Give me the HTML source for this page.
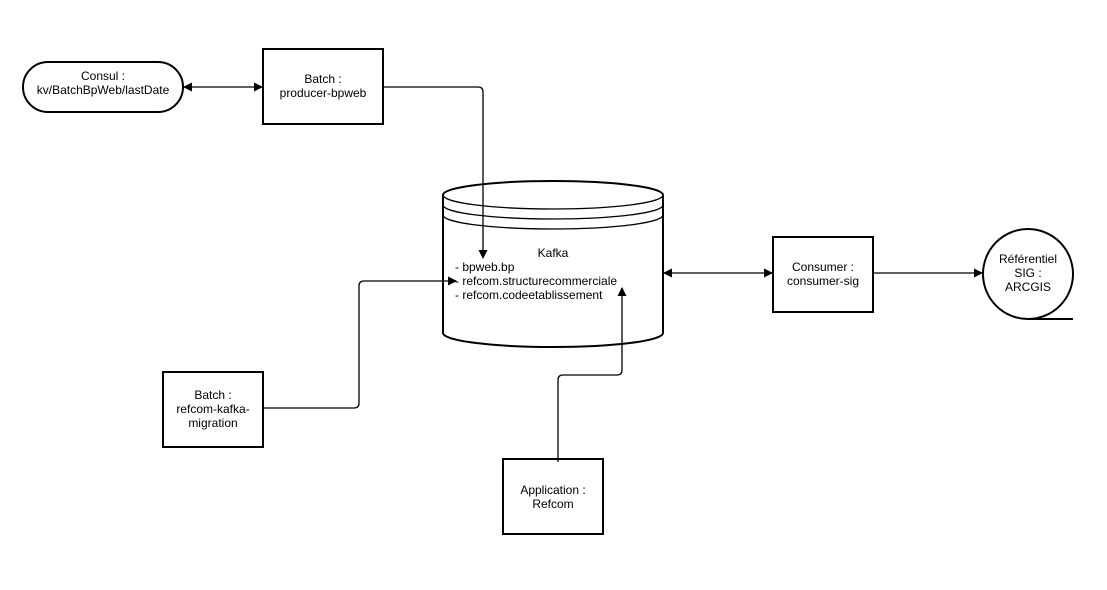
<!DOCTYPE html>
<html><head><meta charset="utf-8"><style>body{margin:0;background:#fff}svg{display:block}text{font-family:"Liberation Sans",sans-serif;font-size:12px;fill:#000}</style></head><body>
<svg width="1107" height="590" viewBox="0 0 1107 590">
<defs><marker id="a" markerWidth="9" markerHeight="9" refX="8" refY="4.5" orient="auto" markerUnits="userSpaceOnUse"><path d="M0,0 L9,4.5 L0,9 z" fill="#000"/></marker>
<marker id="s" markerWidth="9" markerHeight="9" refX="1" refY="4.5" orient="auto" markerUnits="userSpaceOnUse"><path d="M9,0 L0,4.5 L9,9 z" fill="#000"/></marker></defs>
<g fill="#fff" stroke="#000" stroke-width="2">
<rect x="23" y="62" width="160" height="50" rx="25"/>
<rect x="263" y="49" width="120" height="75"/>
<rect x="163" y="372" width="100" height="75"/>
<rect x="503" y="459" width="100" height="75"/>
<rect x="773" y="237" width="100" height="75"/>
<circle cx="1028" cy="274" r="45"/>
<path d="M443,195 A110,14 0 0 1 663,195 L663,333 A110,14 0 0 1 443,333 Z"/>
</g>
<g fill="none" stroke="#000" stroke-width="1.3">
<path d="M443,195 A110,14 0 0 0 663,195"/>
<path d="M443,205 A110,14 0 0 0 663,205"/>
<path d="M443,215 A110,14 0 0 0 663,215"/>
<path d="M184,87 L262,87" marker-start="url(#s)" marker-end="url(#a)"/>
<path d="M383,87 L478,87 Q483,87 483,92 L483,258" marker-end="url(#a)"/>
<path d="M263,408 L354,408 Q359,408 359,403 L359,286 Q359,281 364,281 L456,281" marker-end="url(#a)"/>
<path d="M558,462 L558,380 Q558,375 563,375 L617,375 Q622,375 622,370 L622,288" marker-end="url(#a)"/>
<path d="M664,273 L772,273" marker-start="url(#s)" marker-end="url(#a)"/>
<path d="M873,273 L982,273" marker-end="url(#a)"/>
</g>
<path d="M1028,319 L1073,319" stroke="#000" stroke-width="2"/>
<g text-anchor="middle">
<text x="103" y="80">Consul :</text><text x="103" y="94">kv/BatchBpWeb/lastDate</text>
<text x="323" y="83">Batch :</text><text x="323" y="97">producer-bpweb</text>
<text x="213" y="399">Batch :</text><text x="213" y="413">refcom-kafka-</text><text x="213" y="427">migration</text>
<text x="553" y="494">Application :</text><text x="553" y="508">Refcom</text>
<text x="823" y="271">Consumer :</text><text x="823" y="285">consumer-sig</text>
<text x="1028" y="263">Référentiel</text><text x="1028" y="277">SIG :</text><text x="1028" y="291">ARCGIS</text>
<text x="553" y="257">Kafka</text>
</g>
<text x="455" y="271">- bpweb.bp</text>
<text x="455" y="285">- refcom.structurecommerciale</text>
<text x="455" y="299">- refcom.codeetablissement</text>
</svg>
</body></html>
